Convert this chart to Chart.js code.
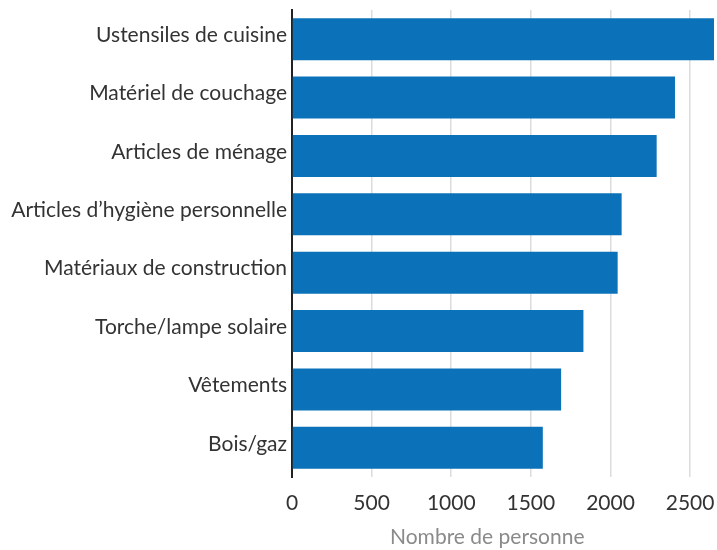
<!DOCTYPE html>
<html lang="fr">
<head>
  <meta charset="UTF-8">
  <title>Nombre de personne par article</title>
  <script src="https://cdn.jsdelivr.net/npm/chart.js"></script>
  <style>
    html, body {
      margin: 0;
      padding: 0;
      background: #fff;
    }
  </style>
</head>
<body>
  <canvas id="chartCanvas" width="717" height="550"></canvas>

  <script>
    // Données
    const categories = [
      "Ustensiles de cuisine",
      "Matériel de couchage",
      "Articles de ménage",
      "Articles d’hygiène personnelle",
      "Matériaux de construction",
      "Torche/lampe solaire",
      "Vêtements",
      "Bois/gaz"
    ];
    const values = [2650, 2405, 2290, 2070, 2045, 1830, 1690, 1575];
    const xTicks = [0, 500, 1000, 1500, 2000, 2500];
    // espaces en fin de titre pour le décaler un peu vers la gauche
    const xTitle = "Nombre de personne\u2002\u2002\u2002";

    Chart.defaults.font.family = "Lato, 'Noto Sans', sans-serif";

    // remonte un peu les libellés des catégories (comme sur l'original)
    const liftLabels = {
      id: "liftLabels",
      beforeDraw(chart) {
        const items = chart.scales.y.getLabelItems();
        items.forEach(it => {
          if (!it._lifted) {
            it.options.translation[1] -= 4;
            it._lifted = true;
          }
        });
      }
    };

    const ctx = document.getElementById("chartCanvas").getContext("2d");
    new Chart(ctx, {
      type: "bar",
      data: {
        labels: categories,
        datasets: [{
          data: values,
          backgroundColor: "#0b72b9",
          borderWidth: 0,
          categoryPercentage: 0.72,
          barPercentage: 1.0
        }]
      },
      plugins: [liftLabels],
      options: {
        indexAxis: "y",
        responsive: false,
        animation: false,
        layout: {
          padding: { top: 10, right: 3, left: 0, bottom: 0 }
        },
        plugins: {
          legend: { display: false },
          tooltip: { enabled: false }
        },
        scales: {
          x: {
            min: 0,
            max: 2650,
            afterBuildTicks: (scale) => {
              scale.ticks = xTicks.map(v => ({ value: v }));
            },
            grid: {
              color: "#dcdcdc",
              lineWidth: 1.5,
              drawTicks: false
            },
            border: { display: false },
            ticks: {
              color: "#333",
              padding: 14,
              font: { size: 21 },
              callback: (v) => String(v)
            },
            title: {
              display: true,
              text: xTitle,
              color: "#8a8a8a",
              font: { size: 21 },
              padding: { top: 0, bottom: 0 }
            },
            afterFit: (scale) => {
              scale.height = 73;
              scale.paddingLeft = 0;
              scale.paddingRight = 0;
            }
          },
          y: {
            grid: { display: false, drawTicks: false },
            border: { display: true, color: "#222", width: 2 },
            ticks: {
              color: "#333",
              padding: 5,
              font: { size: 21 }
            },
            afterFit: (scale) => {
              scale.width = 292;
              scale.paddingTop = 0;
              scale.paddingBottom = 0;
            }
          }
        }
      }
    });
  </script>
</body>
</html>
